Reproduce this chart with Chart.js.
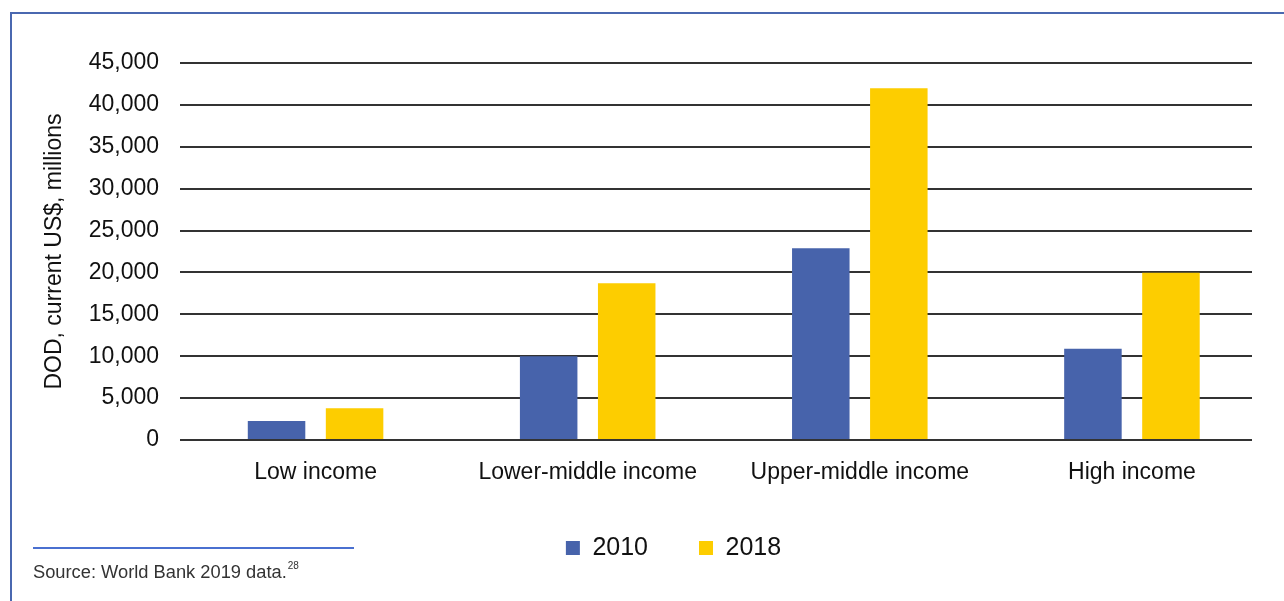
<!DOCTYPE html>
<html>
<head>
<meta charset="utf-8">
<script src="https://cdn.jsdelivr.net/npm/chart.js@4"></script>
<style>
  html, body { margin: 0; padding: 0; background: #ffffff; }
  #wrap { position: relative; width: 1284px; height: 601px; overflow: hidden; background: #fff; }
  #c { position: absolute; left: 0; top: 0; }
  .frame-top { position: absolute; left: 10px; top: 12px; width: 1274px; height: 2px; background: #4a68b0; }
  .frame-left { position: absolute; left: 10px; top: 12px; width: 2px; height: 589px; background: #4a68b0; }
  .src-line { position: absolute; left: 33px; top: 547px; width: 321px; height: 1.5px; background: #4a70d0; }
  .src { position: absolute; left: 33px; top: 561px; font-family: "Liberation Sans", Arial, sans-serif; font-size: 18.3px; color: #333; white-space: nowrap; }
  .src sup { font-size: 10px; position: relative; top: -1px; vertical-align: top; margin-left: 1px; }
</style>
</head>
<body>
<div id="wrap">
  <canvas id="c" width="1284" height="601"></canvas>
  <div class="frame-top"></div>
  <div class="frame-left"></div>
  <div class="src-line"></div>
  <div class="src">Source: World Bank 2019 data.<sup>28</sup></div>
</div>
<script>
const categories = ["Low income", "Lower-middle income", "Upper-middle income", "High income"];
const seriesNames = ["2010", "2018"];
const values2010 = [2270, 10000, 22900, 10880];
const values2018 = [3800, 18720, 42000, 19950];
const yTickMax = 45000;
const yTickStep = 5000;
const yTitle = "DOD, current US$, millions";

const FONT = "'Liberation Sans', Arial, Helvetica, sans-serif";
const LEGEND_PAD = 51;
const LEGEND_FONT = 25;

const layoutTweaks = {
  id: 'layoutTweaks',
  afterLayout(chart) {
    // category axis spans slightly wider than the gridlines (as in the source chart)
    const x = chart.scales.x;
    x.left = 179.5;
    x.right = 1268;
    x.width = x.right - x.left;
    x.configure();
    // legend placement
    const lg = chart.legend;
    if (lg) {
      const dx = 673.5 - (lg.left + lg.right) / 2;
      lg.left += dx; lg.right += dx;
      lg.top = 548 - LEGEND_FONT / 2 - LEGEND_PAD;
      lg.bottom = 601;
      lg.height = lg.bottom - lg.top;
    }
  }
};

new Chart(document.getElementById('c'), {
  type: 'bar',
  data: {
    labels: categories,
    datasets: [
      { label: seriesNames[0], data: values2010, backgroundColor: '#4763AB', borderWidth: 0 },
      { label: seriesNames[1], data: values2018, backgroundColor: '#FDCD00', borderWidth: 0 }
    ]
  },
  plugins: [layoutTweaks],
  options: {
    responsive: false,
    animation: false,
    devicePixelRatio: 1,
    categoryPercentage: 0.5735,
    barPercentage: 0.737,
    layout: { padding: { top: 63, right: 32, left: 30, bottom: 0 } },
    plugins: {
      tooltip: { enabled: false },
      legend: {
        position: 'bottom',
        maxHeight: 40,
        labels: {
          boxWidth: 14,
          boxHeight: 14,
          padding: LEGEND_PAD,
          color: '#111',
          font: { family: FONT, size: LEGEND_FONT }
        }
      }
    },
    scales: {
      x: {
        grid: { display: false, drawTicks: false },
        border: { display: false },
        ticks: { color: '#111', padding: 19, font: { family: FONT, size: 23 }, maxRotation: 0 },
        afterFit(s) { s.height = 601 - 40 - 440; }
      },
      y: {
        min: 0,
        max: yTickMax,
        grid: { color: '#333', lineWidth: 2, drawTicks: false },
        border: { display: false },
        ticks: { stepSize: yTickStep, color: '#111', padding: 21, font: { family: FONT, size: 23 } },
        title: { display: true, text: yTitle, color: '#111', font: { family: FONT, size: 23 }, padding: { top: 11, bottom: 0 } },
        afterFit(s) { s.width = 150; }
      }
    }
  }
});
</script>
</body>
</html>
